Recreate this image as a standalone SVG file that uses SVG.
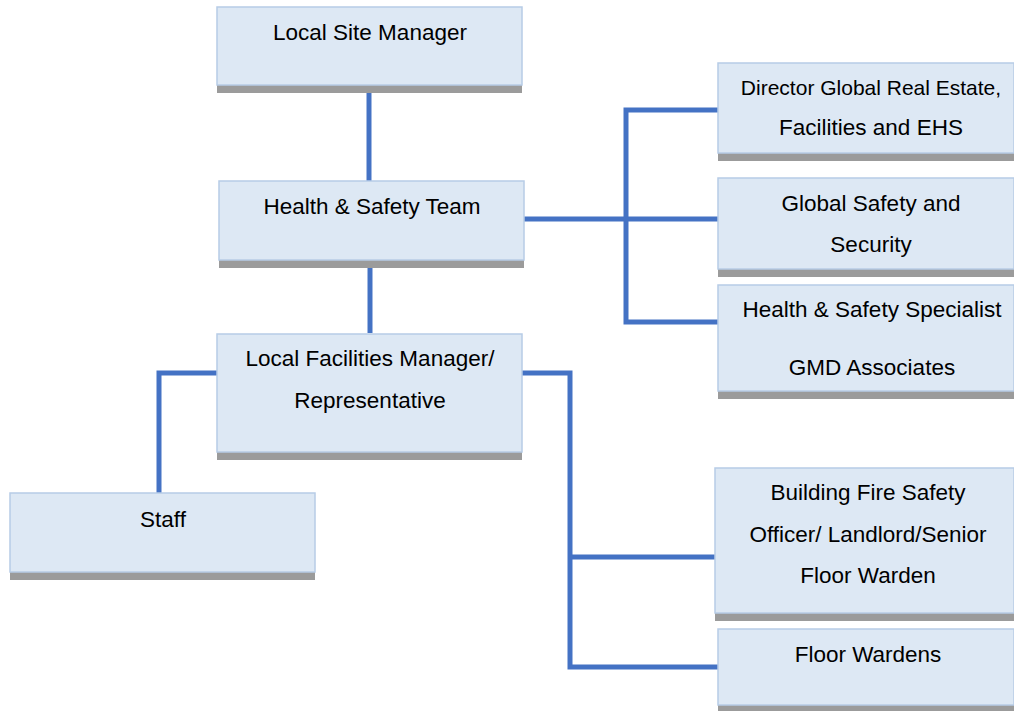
<svg xmlns="http://www.w3.org/2000/svg" width="1014" height="711" viewBox="0 0 1014 711">
<style>
.box{fill:#DDE8F4;stroke:#B7CCE6;stroke-width:1.5}
.sh{fill:#9B9B9B}
.t{font-family:"Liberation Sans",Arial,sans-serif;font-size:22.5px;fill:#000;text-anchor:middle}
.s{font-size:21px}
.c{fill:none;stroke:#4472C4;stroke-width:5;stroke-linejoin:miter}
</style>
<rect width="1014" height="711" fill="#fff"/>
<g id="connectors">
<path class="c" d="M369 93V181"/>
<path class="c" d="M370 267V333"/>
<path class="c" d="M524 219H718M718 110H626V322H718"/>
<path class="c" d="M217 373H159V493"/>
<path class="c" d="M522 373H570V667H718M570 557H715"/>
</g>
<g id="n1"><rect class="sh" x="217" y="85" width="305" height="8"/><rect class="box" x="217" y="7" width="305" height="78"/><text class="t" x="370" y="40">Local Site Manager</text></g>
<g id="n2"><rect class="sh" x="219" y="260" width="305" height="8"/><rect class="box" x="219" y="181" width="305" height="79"/><text class="t" x="372" y="214">Health &amp; Safety Team</text></g>
<g id="n3"><rect class="sh" x="217" y="452" width="305" height="8"/><rect class="box" x="217" y="334" width="305" height="118"/><text class="t" x="370" y="366">Local Facilities Manager/</text><text class="t" x="370" y="408">Representative</text></g>
<g id="n4"><rect class="sh" x="10" y="572" width="305" height="8"/><rect class="box" x="10" y="493" width="305" height="79"/><text class="t" x="163" y="527">Staff</text></g>
<g id="n5"><rect class="sh" x="718" y="153" width="296" height="8"/><rect class="box" x="718" y="63" width="296" height="90"/><text class="t s" x="871" y="95">Director Global Real Estate,</text><text class="t" x="871" y="135">Facilities and EHS</text></g>
<g id="n6"><rect class="sh" x="718" y="269" width="296" height="8"/><rect class="box" x="718" y="178" width="296" height="91"/><text class="t" x="871" y="211">Global Safety and</text><text class="t" x="871" y="252">Security</text></g>
<g id="n7"><rect class="sh" x="718" y="391" width="296" height="8"/><rect class="box" x="718" y="285" width="296" height="106"/><text class="t" x="872" y="317">Health &amp; Safety Specialist</text><text class="t" x="872" y="375">GMD Associates</text></g>
<g id="n8"><rect class="sh" x="715" y="613" width="299" height="8"/><rect class="box" x="715" y="468" width="299" height="145"/><text class="t" x="868" y="500">Building Fire Safety</text><text class="t" x="868" y="542">Officer/ Landlord/Senior</text><text class="t" x="868" y="583">Floor Warden</text></g>
<g id="n9"><rect class="sh" x="718" y="705" width="296" height="8"/><rect class="box" x="718" y="629" width="296" height="76"/><text class="t" x="868" y="662">Floor Wardens</text></g>
</svg>
